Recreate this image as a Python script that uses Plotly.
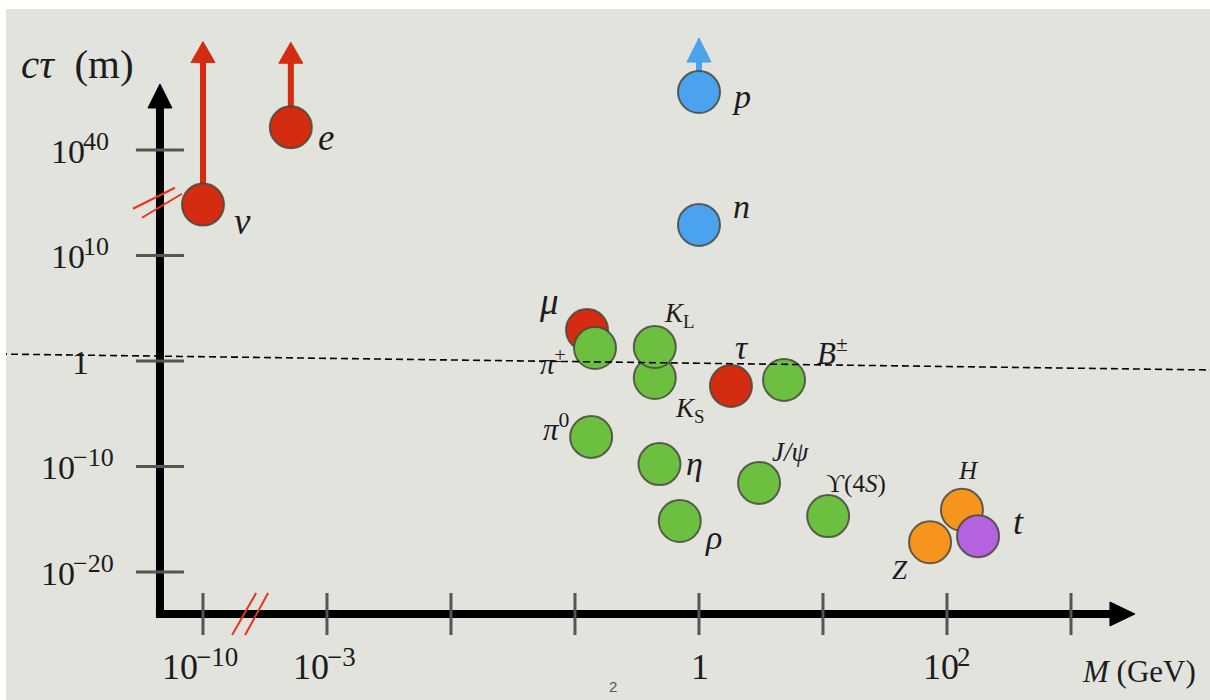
import numpy as np
import plotly.graph_objects as go

# ---------------- data ----------------
names = ["ν", "e", "p", "n", "μ", "π±", "K_S", "K_L", "τ", "B±", "π0", "η", "J/ψ", "ρ", "ϒ(4S)", "Z", "H", "t"]
mass_gev = [1e-10, 5.11e-4, 1.0, 1.0, 0.125, 0.145, 0.44, 0.44, 1.81, 4.85, 0.135, 0.48, 3.05, 0.70, 11.0, 73.0, 132.0, 178.0]
ctau_m = [3e24, 3e46, 3e56, 5e18, 870.0, 17.0, 0.0245, 21.0, 0.0043, 0.016, 6.3e-8, 1.7e-10, 2.8e-12, 6.8e-16, 2e-15, 6.6e-18, 7.9e-15, 2.5e-17]
family = ["lepton", "lepton", "nucleon", "nucleon", "lepton", "hadron", "hadron", "hadron", "lepton", "hadron",
          "hadron", "hadron", "hadron", "hadron", "hadron", "boson", "boson", "quark"]
stable = ["ν", "e", "p"]  # lower limits (arrows)

label_html = ["<i>ν</i>", "<i>e</i>", "<i>p</i>", "<i>n</i>", "<i>μ</i>", "<i>π</i><sup>±</sup>",
              "<i>K</i><sub>S</sub>", "<i>K</i><sub>L</sub>", "<i>τ</i>", "<i>B</i><sup>±</sup>",
              "<i>π</i><sup>0</sup>", "<i>η</i>", "<i>J/ψ</i>", "<i>ρ</i>", "ϒ(4<i>S</i>)",
              "<i>Z</i>", "<i>H</i>", "<i>t</i>"]

# tick labels: (value, base text, exponent text)
x_tick_vals = [1e-10, 1e-3, 1e-2, 1e-1, 1.0, 10.0, 1e2, 1e3]
x_tick_base = ["10", "10", "", "", "1", "", "10", ""]
x_tick_exp = ["−10", "−3", "", "", "", "", "2", ""]
y_tick_vals = [1e40, 1e10, 1.0, 1e-10, 1e-20]
y_tick_base = ["10", "10", "1", "10", "10"]
y_tick_exp = ["40", "10", "", "−10", "−20"]

# ---------------- broken log scales ----------------
def xd(m):
    lm = np.log10(m)
    return np.where(lm >= -3.5, lm, -4 + (lm + 10) * (0.5 / 6.5))

def yd(c):
    lc = np.log10(c)
    return np.where(lc <= 10, lc / 10.0, 1 + (lc - 10) / 30.0)

colors = {"lepton": "#d42c10", "nucleon": "#4ba2ef", "hadron": "#6cbf3f", "boson": "#f7941e", "quark": "#b462df"}
SERIF = "Liberation Serif, DejaVu Serif, serif"
TXT = "#1c1c1c"

X = xd(np.array(mass_gev))
Y = yd(np.array(ctau_m))

XR = [-5.637, 4.121]
YR = [-3.2133, 3.4218]
X_AX = -4.347   # vertical axis position (display units)
Y_AX = -2.398   # horizontal axis position
X_BREAK = -3.62
Y_BREAK = 1.50

fig = go.Figure()

shapes = []
ann = []

# arrows for lower limits
arrow_len = {"ν": 142, "e": 64, "p": 30}
head_len = {"ν": 21, "e": 21, "p": 24}
for nm, x, y, fam in zip(names, X, Y, family):
    if nm in stable:
        col = colors[fam]
        L = arrow_len[nm]
        H = head_len[nm]
        shapes.append(dict(type="line", xref="x", yref="y", xsizemode="pixel", ysizemode="pixel",
                           xanchor=float(x), yanchor=float(y), x0=0, x1=0, y0=0, y1=L + 2,
                           line=dict(color=col, width=6), layer="below"))
        shapes.append(dict(type="path", xref="x", yref="y", xsizemode="pixel", ysizemode="pixel",
                           xanchor=float(x), yanchor=float(y),
                           path=f"M -12,{L} L 12,{L} L 0,{L + H} Z",
                           fillcolor=col, line=dict(color=col, width=1), layer="below"))

fig.add_trace(go.Scatter(
    x=X, y=Y, mode="markers",
    marker=dict(size=42, color=[colors[f] for f in family],
                line=dict(color="rgba(70,72,60,0.85)", width=2)),
    hoverinfo="skip", showlegend=False))

# particle labels
offsets = {"ν": (40, -17, 37), "e": (35, -10, 37), "p": (43, -4, 34), "n": (43, 18, 34),
           "μ": (-38, 28, 37), "π±": (-42, -14, 29), "K_S": (35, -32, 27), "K_L": (25, 32, 27),
           "τ": (11, 38, 34), "B±": (48, 28, 31), "π0": (-35, 9, 31), "η": (35, 1, 34),
           "J/ψ": (31, 31, 27), "ρ": (34, -16, 34), "ϒ(4S)": (28, 32, 25), "Z": (-30, -28, 27),
           "H": (7, 39, 25), "t": (40, 14, 36)}
for nm, lab, x, y in zip(names, label_html, X, Y):
    dx, dy, fs = offsets[nm]
    ann.append(dict(x=float(x), y=float(y), xref="x", yref="y", text=lab, showarrow=False,
                    xshift=dx, yshift=dy, xanchor="center", yanchor="middle",
                    font=dict(family=SERIF, size=fs, color=TXT)))


def text_w(t, fs):
    w = 0.0
    for ch in t:
        w += (0.564 * fs + 5) if ch == "−" else 0.5 * fs
    return w


def power_label(xv, yv, base, exp, cx, cy, fb, fe, dy_exp):
    """Place '10^exp' centred at pixel shift (cx, cy) from data point (xv, yv)."""
    wb = text_w(base, fb)
    we = text_w(exp, fe) if exp else 0.0
    left = cx - (wb + we) / 2.0
    ann.append(dict(x=xv, y=yv, xref="x", yref="y", text=base, showarrow=False,
                    xshift=left + wb + 1, yshift=cy, xanchor="right", yanchor="middle",
                    borderpad=0, borderwidth=0,
                    font=dict(family=SERIF, size=fb, color=TXT)))
    if exp:
        ann.append(dict(x=xv, y=yv, xref="x", yref="y", text=exp, showarrow=False,
                        xshift=left + wb - 1, yshift=cy + dy_exp, xanchor="left", yanchor="middle",
                        borderpad=0, borderwidth=0,
                        font=dict(family=SERIF, size=fe, color=TXT)))


# axes
AX_W = 8
shapes.append(dict(type="line", xref="x", yref="y", x0=X_AX, x1=X_AX, ysizemode="pixel", yanchor=Y_AX,
                   y0=-4, y1=510, line=dict(color="black", width=AX_W)))
shapes.append(dict(type="path", xref="x", yref="y", xsizemode="pixel", ysizemode="pixel",
                   xanchor=X_AX, yanchor=Y_AX, path="M -12,506 L 12,506 L 0,530 Z",
                   fillcolor="black", line=dict(color="black", width=1)))
shapes.append(dict(type="line", xref="x", yref="y", xsizemode="pixel", xanchor=X_AX,
                   x0=-4, x1=955, y0=Y_AX, y1=Y_AX, line=dict(color="black", width=AX_W)))
shapes.append(dict(type="path", xref="x", yref="y", xsizemode="pixel", ysizemode="pixel",
                   xanchor=X_AX, yanchor=Y_AX, path="M 950,-12 L 950,12 L 975,0 Z",
                   fillcolor="black", line=dict(color="black", width=1)))

TICK_C = "#555555"
for v, b, e in zip(xd(np.array(x_tick_vals)), x_tick_base, x_tick_exp):
    shapes.append(dict(type="line", xref="x", yref="y", ysizemode="pixel", yanchor=Y_AX,
                       x0=float(v), x1=float(v), y0=-21, y1=21, line=dict(color=TICK_C, width=3)))
    if b:
        power_label(float(v), Y_AX, b, e, 0, -53, 36, 27, 10)
for v, b, e in zip(yd(np.array(y_tick_vals)), y_tick_base, y_tick_exp):
    shapes.append(dict(type="line", xref="x", yref="y", xsizemode="pixel", xanchor=X_AX,
                       x0=-24, x1=24, y0=float(v), y1=float(v), line=dict(color=TICK_C, width=3)))
    power_label(X_AX, float(v), b, e, -80, -1, 34, 26, 10)

# axis breaks (red //)
BR = "#e8341c"
for p in ["M -27,-6 L 15,15", "M -18,-15 L 22,9"]:
    shapes.append(dict(type="path", xref="x", yref="y", xsizemode="pixel", ysizemode="pixel",
                       xanchor=X_AX, yanchor=Y_BREAK, path=p, line=dict(color=BR, width=2)))
for p in ["M -18,-21 L 6,21", "M -5,-21 L 18,21"]:
    shapes.append(dict(type="path", xref="x", yref="y", xsizemode="pixel", ysizemode="pixel",
                       xanchor=X_BREAK, yanchor=Y_AX, path=p, line=dict(color=BR, width=2)))

# dashed reference line near c*tau = 1 m
shapes.append(dict(type="line", xref="paper", yref="y", x0=0, x1=1, y0=0.066, y1=-0.085,
                   line=dict(color="black", width=1.6, dash="7px,4px")))

# white border strips of the slide photo
shapes.append(dict(type="rect", xref="paper", yref="paper", x0=0, x1=1, y0=1 - 9 / 700, y1=1,
                   fillcolor="white", line=dict(width=0)))
shapes.append(dict(type="rect", xref="paper", yref="paper", x0=0, x1=6 / 1210, y0=0, y1=1,
                   fillcolor="white", line=dict(width=0)))

# axis titles
ann.append(dict(x=X_AX, y=YR[1], xref="x", yref="y", text="<i>cτ</i>\u00a0\u00a0(m)", showarrow=False,
                xshift=-82, yshift=-64, xanchor="center", yanchor="middle",
                font=dict(family=SERIF, size=41, color=TXT)))
ann.append(dict(x=XR[1], y=Y_AX, xref="x", yref="y", text="<i>M</i> (GeV)", showarrow=False,
                xshift=-71, yshift=-58, xanchor="center", yanchor="middle",
                font=dict(family=SERIF, size=31, color=TXT)))
# slide page number
ann.append(dict(x=0.507, y=0.02, xref="paper", yref="paper", text="2", showarrow=False,
                xanchor="center", yanchor="middle",
                font=dict(family="Liberation Sans, sans-serif", size=15, color="#555555")))

fig.update_layout(
    width=1210, height=700, margin=dict(l=0, r=0, t=0, b=0),
    paper_bgcolor="#e3e3de", plot_bgcolor="#e3e3de",
    xaxis=dict(range=XR, visible=False, fixedrange=True),
    yaxis=dict(range=YR, visible=False, fixedrange=True),
    shapes=shapes, annotations=ann, showlegend=False, hovermode=False,
)

fig.write_html("out.html", config={"displayModeBar": False},
               post_script="document.body.style.margin='0';")
